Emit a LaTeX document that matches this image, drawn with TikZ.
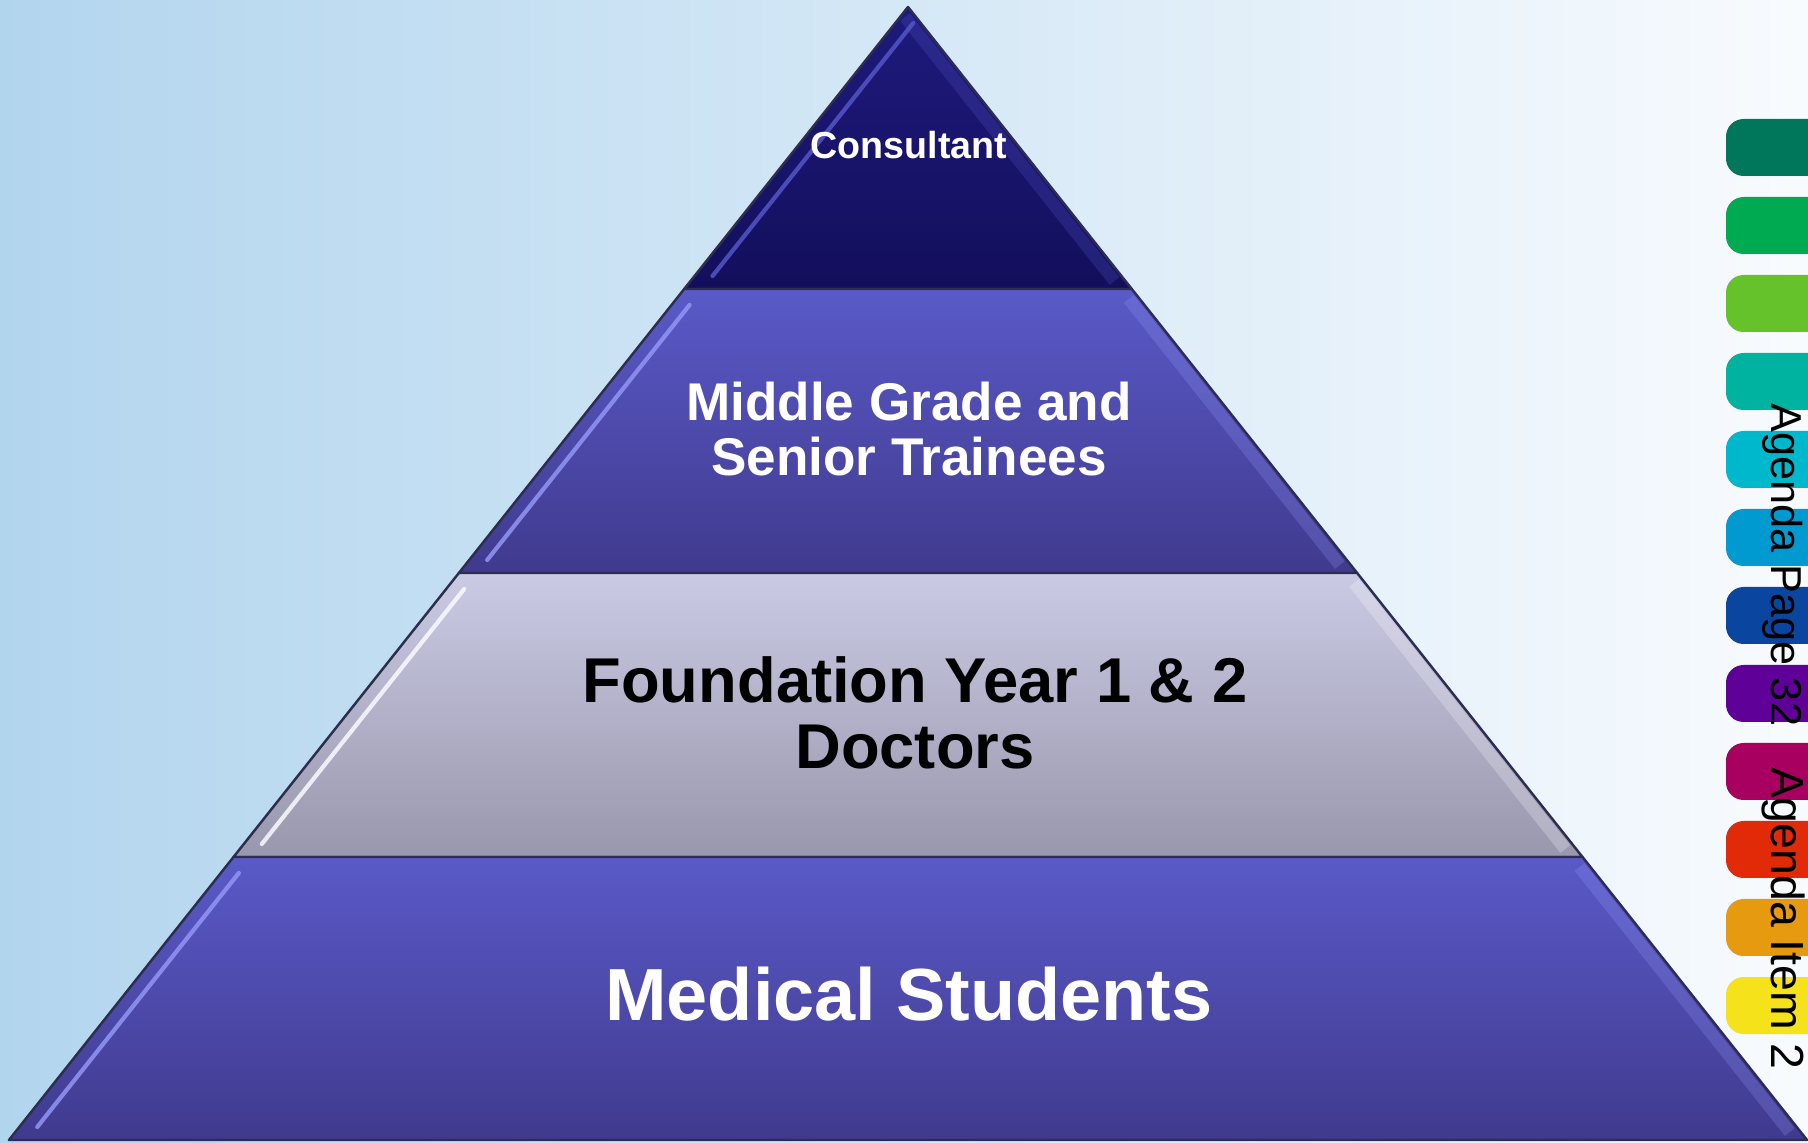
\documentclass[tikz,border=0pt]{standalone}
\usepackage{fontspec}
\setmainfont{Liberation Sans}
\usepackage{tikz}
\usetikzlibrary{positioning}
\definecolor{bgleft}{RGB}{178,213,238}
\definecolor{bgmid}{RGB}{205,226,243}
\definecolor{bgright}{RGB}{248,251,254}
\definecolor{consultop}{RGB}{30,26,124}
\definecolor{consulbot}{RGB}{19,15,92}
\definecolor{consulhl}{RGB}{84,86,200}
\definecolor{bluetop}{RGB}{90,90,200}
\definecolor{bluebot}{RGB}{64,58,142}
\definecolor{bluehl}{RGB}{146,150,246}
\definecolor{greytop}{RGB}{203,202,228}
\definecolor{greybot}{RGB}{152,151,173}
\definecolor{greyhl}{RGB}{250,250,255}
\definecolor{edgeline}{RGB}{45,45,80}
\definecolor{tabteal}{RGB}{0,119,90}
\definecolor{tabgreen}{RGB}{0,170,80}
\definecolor{tablime}{RGB}{102,194,42}
\definecolor{tabaqua}{RGB}{0,179,160}
\definecolor{tabcyan}{RGB}{0,184,204}
\definecolor{tabsky}{RGB}{0,153,208}
\definecolor{tabnavy}{RGB}{10,70,160}
\definecolor{tabpurple}{RGB}{95,0,153}
\definecolor{tabmagenta}{RGB}{168,0,96}
\definecolor{tabred}{RGB}{224,42,8}
\definecolor{taborange}{RGB}{230,154,16}
\definecolor{tabyellow}{RGB}{245,226,26}

\tikzset{
  layer/.style={draw=edgeline, line width=0.7pt, line join=round},
  lbl/.style={align=center, inner sep=0pt},
}

\begin{document}
\begin{tikzpicture}[x=0.01cm, y=-0.01cm]
\useasboundingbox (0,0) rectangle (1808,1143);
\clip (0,0) rectangle (1808,1143);

% Background
\shade[left color=bgleft, middle color=bgmid, right color=bgright] (0,0) rectangle (1808,1143);

% Side tabs
\foreach \c [count=\i from 0] in {tabteal,tabgreen,tablime,tabaqua,tabcyan,tabsky,tabnavy,tabpurple,tabmagenta,tabred,taborange,tabyellow} {
    \fill[\c, rounded corners=5pt] (1726,119+78*\i) rectangle (1850,176+78*\i);
}

% Pyramid layers
\foreach \yt/\yb/\ct/\cb/\hl in {7/289/consultop/consulbot/consulhl, 289/573/bluetop/bluebot/bluehl, 573/857/greytop/greybot/greyhl, 857/1140/bluetop/bluebot/bluehl} {
    \pgfmathsetmacro{\lt}{908-0.7935*(\yt-7)}
    \pgfmathsetmacro{\rt}{908+0.7935*(\yt-7)}
    \pgfmathsetmacro{\lb}{908-0.7935*(\yb-7)}
    \pgfmathsetmacro{\rb}{908+0.7935*(\yb-7)}
    \shade[layer, top color=\ct, bottom color=\cb] (\lt,\yt) -- (\rt,\yt) -- (\rb,\yb) -- (\lb,\yb) -- cycle;
    % bevel highlights
    \pgfmathsetmacro{\hxa}{908-0.7935*(\yt+16-7)+18}
    \pgfmathsetmacro{\hxb}{908-0.7935*(\yb-13-7)+18}
    \draw[\hl, line width=1.2pt, line cap=round, opacity=0.85] (\hxa,\yt+16) -- (\hxb,\yb-13);
    \pgfmathsetmacro{\rxa}{908+0.7935*(\yt+10-7)-11}
    \pgfmathsetmacro{\rxb}{908+0.7935*(\yb-8-7)-11}
    \draw[\hl, line width=3.5pt, opacity=0.25] (\rxa,\yt+10) -- (\rxb,\yb-8);
}

% Labels
\node[lbl, white, font=\bfseries\fontsize{10.7}{12}\selectfont] (consult) at (909,145) {Consultant};
\node[lbl, white, font=\bfseries\fontsize{15.1}{15.9}\selectfont] (middle) at (909,429) {Middle Grade and\\Senior Trainees};
\node[lbl, black, font=\bfseries\fontsize{18}{18.8}\selectfont] (found) at (915,713) {Foundation Year 1 \& 2\\Doctors};
\node[lbl, white, font=\bfseries\fontsize{21}{24}\selectfont] (medstud) at (909,994) {Medical Students};

% Agenda stamps
\node[font=\fontsize{12.3}{14}\selectfont, rotate=-90, anchor=base, inner sep=0pt] (agpage) at (1771,565) {Agenda Page 32};
\node[font=\fontsize{13.2}{15}\selectfont, rotate=-90, anchor=base, inner sep=0pt] (agitem) at (1771,918) {Agenda Item 2};
\end{tikzpicture}
\end{document}
